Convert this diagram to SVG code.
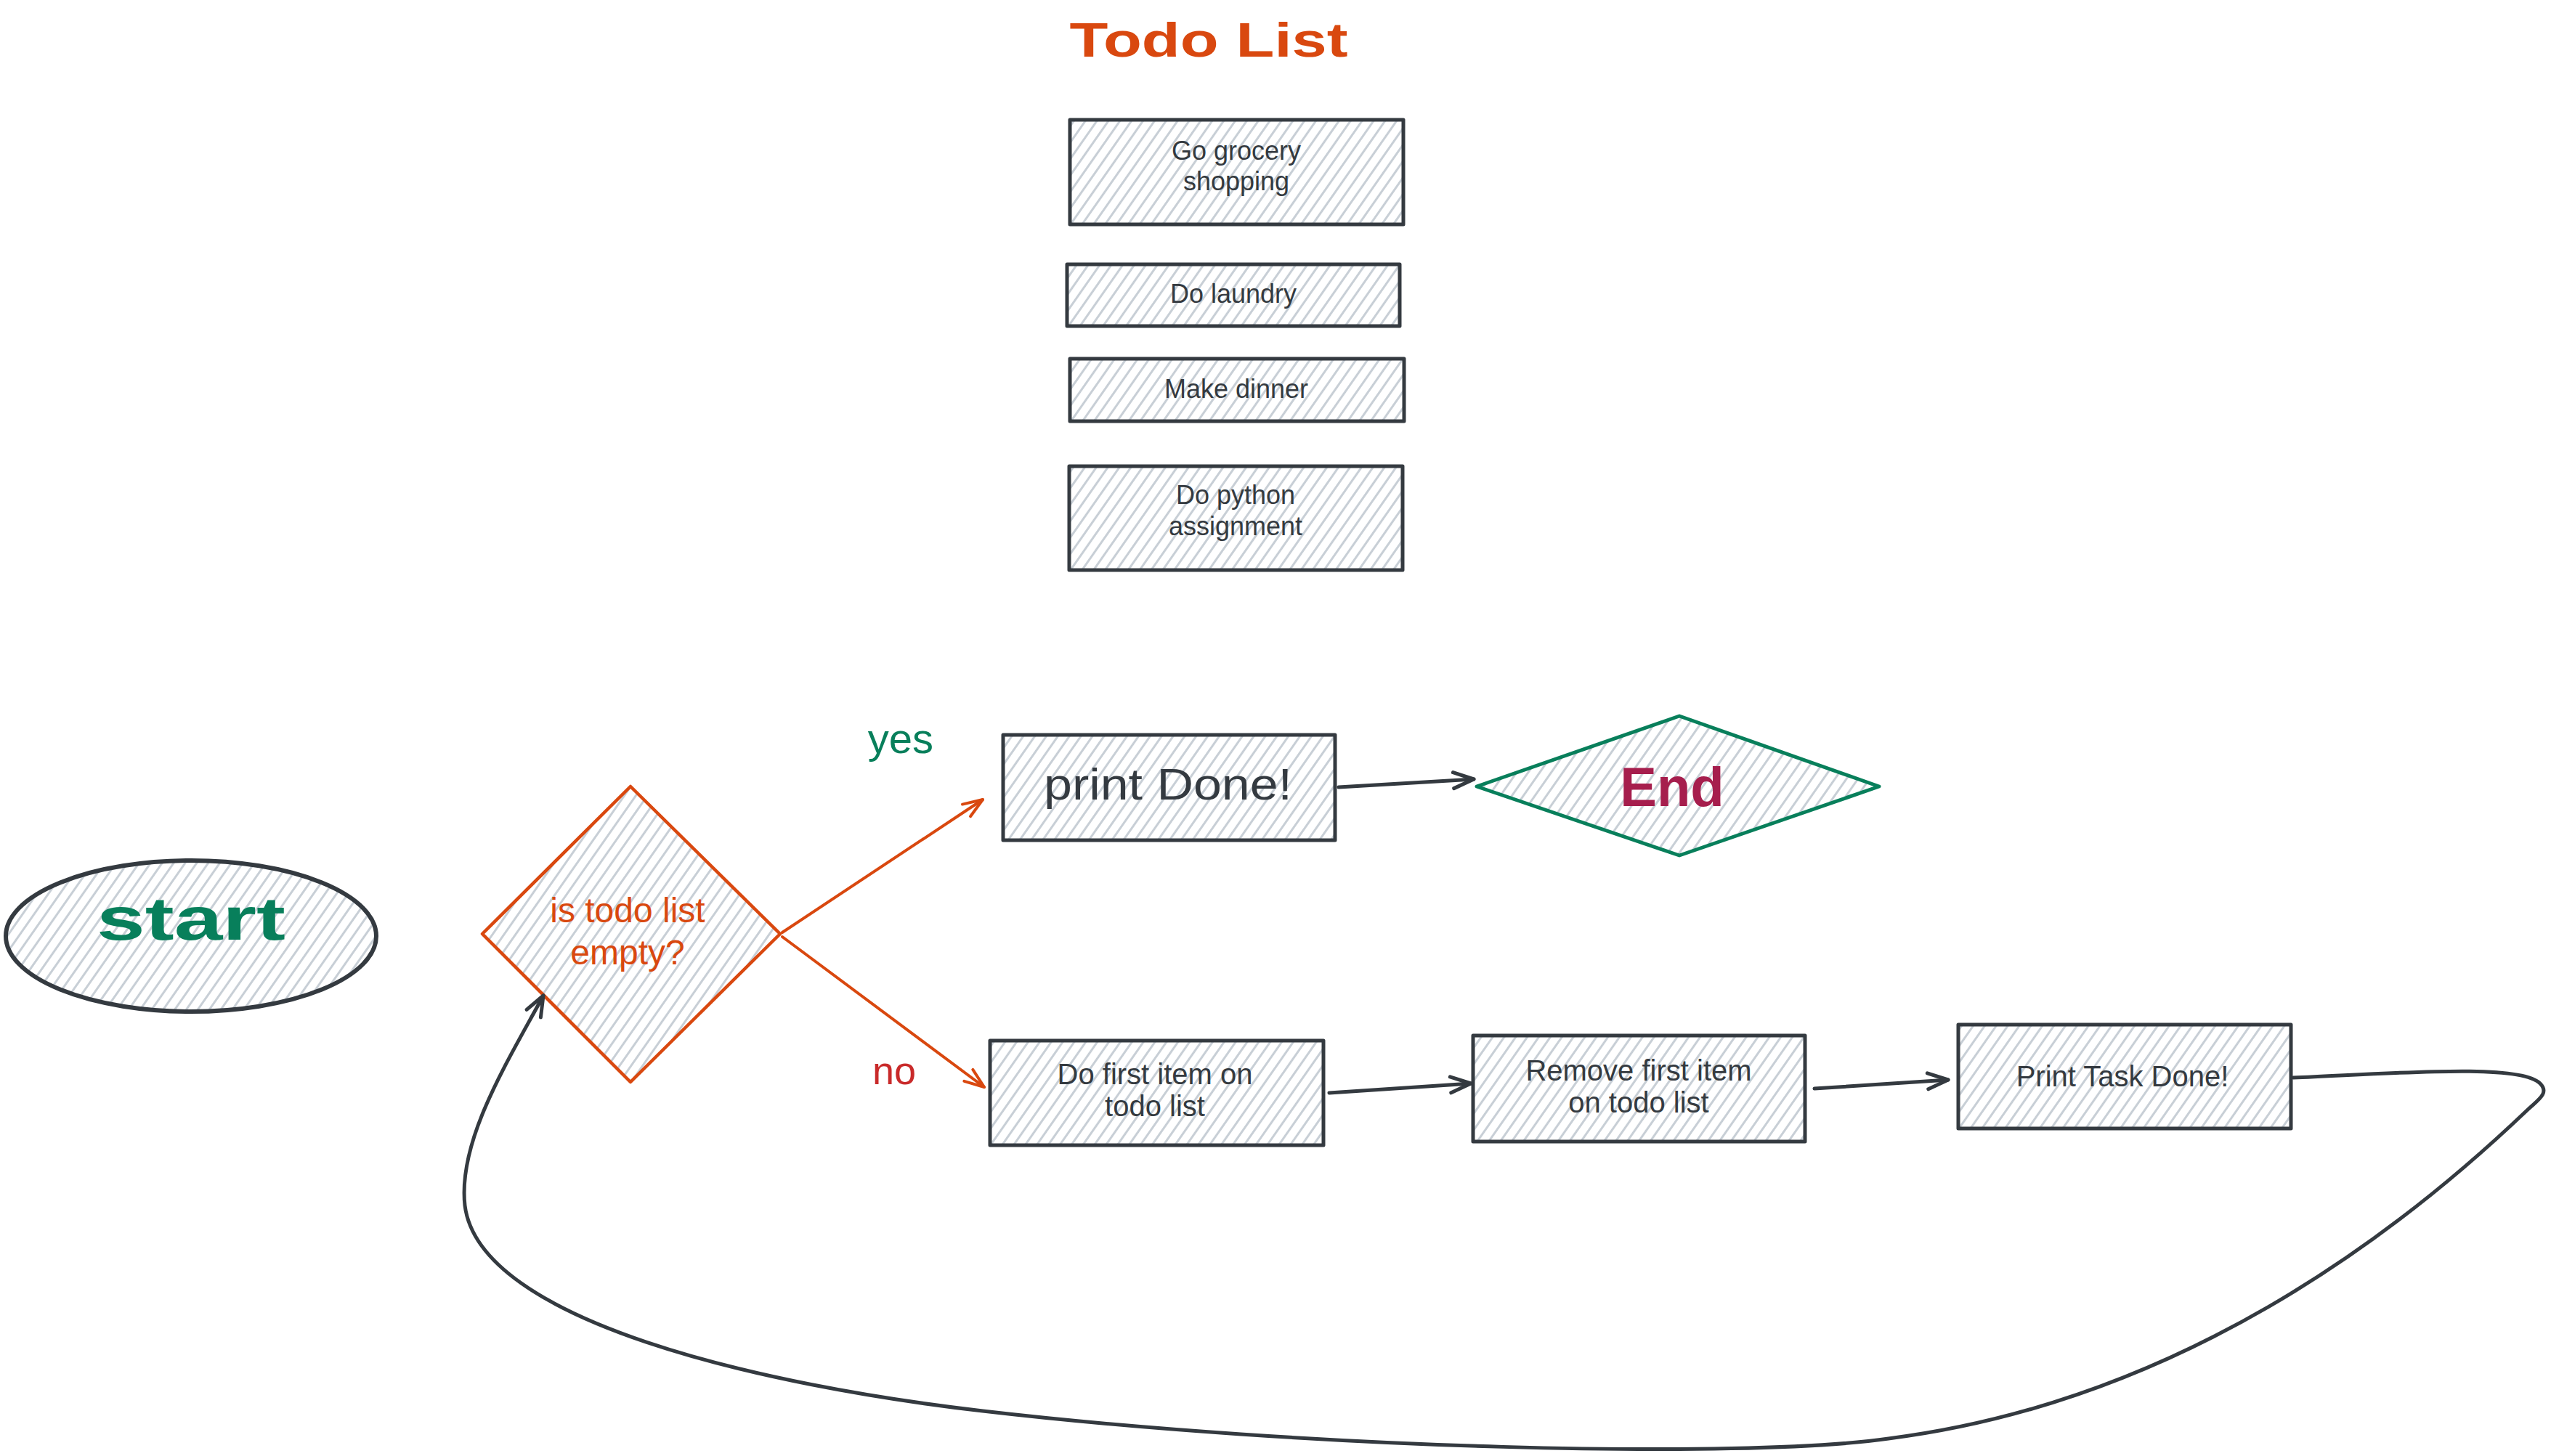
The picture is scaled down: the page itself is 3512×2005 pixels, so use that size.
<svg xmlns="http://www.w3.org/2000/svg" width="3512" height="2005" viewBox="0 0 3512 2005">
<defs>
<pattern id="hatch" patternUnits="userSpaceOnUse" width="13" height="13" patternTransform="rotate(35)">
<line x1="6.5" y1="0" x2="6.5" y2="13" stroke="#c8cfd6" stroke-width="3"/>
</pattern>
<marker id="ah-dark" markerUnits="userSpaceOnUse" markerWidth="44" markerHeight="44" viewBox="-36 -22 44 44" refX="0" refY="0" orient="auto" overflow="visible">
<path d="M -28 -11 L 0 0 L -28 11" fill="none" stroke="#343a40" stroke-width="5" stroke-linecap="round" stroke-linejoin="round"/>
</marker>
<marker id="ah-orange" markerUnits="userSpaceOnUse" markerWidth="44" markerHeight="44" viewBox="-36 -22 44 44" refX="0" refY="0" orient="auto" overflow="visible">
<path d="M -27 -10 L 0 0 L -27 10" fill="none" stroke="#d9480f" stroke-width="4" stroke-linecap="round" stroke-linejoin="round"/>
</marker>
</defs>
<style>
.box{fill:url(#hatch);stroke:#343a40;stroke-width:5;stroke-linejoin:round}
.t{font-family:"Liberation Sans",Arial,sans-serif;text-anchor:middle;fill:#343a40}
.item{font-size:36px}
.flow{font-size:40px}
.dark{fill:none;stroke:#343a40;stroke-width:5;stroke-linecap:round;marker-end:url(#ah-dark)}
.orange{fill:none;stroke:#d9480f;stroke-width:4;stroke-linecap:round;marker-end:url(#ah-orange)}
</style>
<rect x="0" y="0" width="3512" height="2005" fill="#ffffff"/>

<g id="title">
<text class="t" x="1664" y="78" font-size="66" font-weight="bold" style="fill:#d9480f" textLength="383" lengthAdjust="spacingAndGlyphs">Todo List</text>
</g>

<g id="item-grocery">
<rect class="box" x="1473" y="165" width="459" height="144"/>
<text class="t item" x="1702" y="220">Go grocery</text>
<text class="t item" x="1702" y="262">shopping</text>
</g>
<g id="item-laundry">
<rect class="box" x="1469" y="364" width="458" height="85"/>
<text class="t item" x="1698" y="417">Do laundry</text>
</g>
<g id="item-dinner">
<rect class="box" x="1473" y="494" width="460" height="86"/>
<text class="t item" x="1702" y="548">Make dinner</text>
</g>
<g id="item-python">
<rect class="box" x="1472" y="642" width="459" height="143"/>
<text class="t item" x="1701" y="694">Do python</text>
<text class="t item" x="1701" y="737">assignment</text>
</g>

<g id="start">
<ellipse cx="263" cy="1289" rx="255" ry="104" fill="url(#hatch)" stroke="#343a40" stroke-width="6"/>
<text class="t" x="263" y="1294" font-size="84" font-weight="bold" style="fill:#087f5b" textLength="260" lengthAdjust="spacingAndGlyphs">start</text>
</g>

<g id="decision">
<polygon points="868,1083 1074,1286 868,1490 664,1286" fill="url(#hatch)" stroke="#d9480f" stroke-width="4.5" stroke-linejoin="round"/>
<text class="t" x="864" y="1270" font-size="48" style="fill:#d9480f">is todo list</text>
<text class="t" x="864" y="1328" font-size="48" style="fill:#d9480f">empty?</text>
</g>

<g id="print-done">
<rect class="box" x="1381" y="1012" width="457" height="145"/>
<text class="t" x="1608" y="1101" font-size="62" textLength="342" lengthAdjust="spacingAndGlyphs">print Done!</text>
</g>

<g id="end">
<polygon points="2033,1083 2312,986 2587,1083 2312,1178" fill="url(#hatch)" stroke="#087f5b" stroke-width="5" stroke-linejoin="round"/>
<text class="t" x="2302" y="1110" font-size="76" font-weight="bold" style="fill:#a61e4d">End</text>
</g>

<g id="do-first">
<rect class="box" x="1363" y="1433" width="459" height="144"/>
<text class="t flow" x="1590" y="1493">Do first item on</text>
<text class="t flow" x="1590" y="1537">todo list</text>
</g>

<g id="remove-first">
<rect class="box" x="2028" y="1426" width="457" height="146"/>
<text class="t flow" x="2256" y="1488">Remove first item</text>
<text class="t flow" x="2256" y="1532">on todo list</text>
</g>

<g id="print-task">
<rect class="box" x="2696" y="1411" width="458" height="143"/>
<text class="t flow" x="2922" y="1496">Print Task Done!</text>
</g>

<g id="connectors">
<line class="orange" x1="1077" y1="1284" x2="1353" y2="1101"/>
<line class="orange" x1="1077" y1="1290" x2="1355" y2="1497"/>
<line class="dark" x1="1843" y1="1084" x2="2029" y2="1073"/>
<line class="dark" x1="1830" y1="1505" x2="2025" y2="1492"/>
<line class="dark" x1="2498" y1="1499" x2="2682" y2="1487"/>
<path class="dark" d="M 3157 1484 C 3300 1478, 3470 1464, 3497 1492 C 3510 1505, 3495 1514, 3480 1528 C 3300 1700, 3000 1930, 2600 1981 C 2400 2010, 1800 1995, 1353 1943 C 1050 1908, 660 1820, 640 1660 C 630 1570, 700 1460, 748 1371"/>
<text class="t" x="1240" y="1037" font-size="58" style="fill:#087f5b">yes</text>
<text class="t" x="1231" y="1493" font-size="54" style="fill:#c92a2a">no</text>
</g>
</svg>
